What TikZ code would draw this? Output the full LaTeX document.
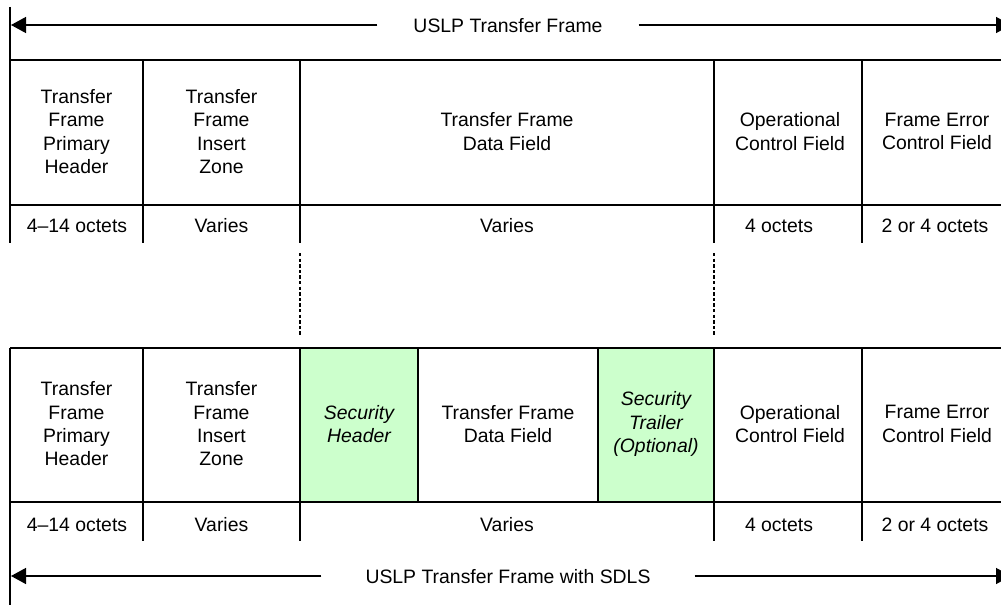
\documentclass[tikz,border=0pt]{standalone}
\usepackage{fontspec}
\setmainfont{Liberation Sans}
\usetikzlibrary{arrows.meta}
\definecolor{secgreen}{HTML}{CCFFCC}
\begin{document}
\begin{tikzpicture}[x=1pt,y=-1pt,
  txt/.style={inner sep=0pt,align=center,font=\fontsize{19.4}{23.3}\selectfont},
  itxt/.style={txt,font=\fontsize{19.4}{23.3}\selectfont\itshape},
  rule/.style={line width=1.4pt},
  dots/.style={line width=1.4pt,dash pattern=on 3.3pt off 2.3pt},
  arr/.style={line width=1.4pt,-{Triangle[length=15pt,width=16pt]}}]
\useasboundingbox (0,0) rectangle (1001,607);
\begin{scope}
\clip (0,0) rectangle (1001,607);
% ---- top frame ----
\fill[white] (0,0) rectangle (1001,607);
\draw[rule] (10,7) -- (10,243);
\draw[rule] (10,60) -- (1001,60);
\draw[rule] (10,205) -- (1001,205);
\foreach \x in {143,300,714,862} \draw[rule] (\x,60) -- (\x,243);
\node[txt] (c1) at (76.5,131.5) {Transfer\\Frame\\Primary\\Header};
\node[txt] (c2) at (221.5,131.5) {Transfer\\Frame\\Insert\\Zone};
\node[txt] (c3) at (507,131.5) {Transfer Frame\\Data Field};
\node[txt] (c4) at (790,131.5) {Operational\\Control Field};
\node[txt] (c5) at (937,131.5) {Frame Error\\Control Field};
\node[txt,anchor=base] (s1) at (77,232.5) {4–14 octets};
\node[txt,anchor=base] (s2) at (221.5,232.5) {Varies};
\node[txt,anchor=base] (s3) at (507,232.5) {Varies};
\node[txt,anchor=base] (s4) at (779,232.5) {4 octets};
\node[txt,anchor=base] (s5) at (935,232.5) {2 or 4 octets};
% title arrow
\coordinate (tl) at (11,25);
\coordinate (tr) at (1011,25);
\node[txt,inner xsep=36pt,anchor=base] (t1) at (508,32.5) {USLP Transfer Frame};
\draw[arr] (t1.west |- tl) -- (tl);
\draw[arr] (t1.east |- tr) -- (tr);
% dotted connectors
\draw[dots] (300,253) -- (300,336);
\draw[dots] (714,253) -- (714,336);
% ---- bottom frame ----
\fill[secgreen] (300,348) rectangle (418,502);
\fill[secgreen] (598,348) rectangle (714,502);
\draw[rule] (10,348) -- (10,605);
\draw[rule] (10,348) -- (1001,348);
\draw[rule] (10,502) -- (1001,502);
\foreach \x in {143,300,714,862} \draw[rule] (\x,348) -- (\x,541);
\foreach \x in {418,598} \draw[rule] (\x,348) -- (\x,502);
\node[txt] (b1) at (76.5,424) {Transfer\\Frame\\Primary\\Header};
\node[txt] (b2) at (221.5,424) {Transfer\\Frame\\Insert\\Zone};
\node[itxt] (b3) at (359,424) {Security\\Header};
\node[txt] (b4) at (508,424) {Transfer Frame\\Data Field};
\node[itxt] (b5) at (656,424) {Security\\Trailer\\(Optional)};
\node[txt] (b6) at (790,424) {Operational\\Control Field};
\node[txt] (b7) at (937,424) {Frame Error\\Control Field};
\node[txt,anchor=base] (u1) at (77,531) {4–14 octets};
\node[txt,anchor=base] (u2) at (221.5,531) {Varies};
\node[txt,anchor=base] (u3) at (507,531) {Varies};
\node[txt,anchor=base] (u4) at (779,531) {4 octets};
\node[txt,anchor=base] (u5) at (935,531) {2 or 4 octets};
\coordinate (bl) at (11,576);
\coordinate (br) at (1011,576);
\node[txt,inner xsep=44pt,anchor=base] (t2) at (508,583) {USLP Transfer Frame with SDLS};
\draw[arr] (t2.west |- bl) -- (bl);
\draw[arr] (t2.east |- br) -- (br);
\end{scope}
\end{tikzpicture}
\end{document}
